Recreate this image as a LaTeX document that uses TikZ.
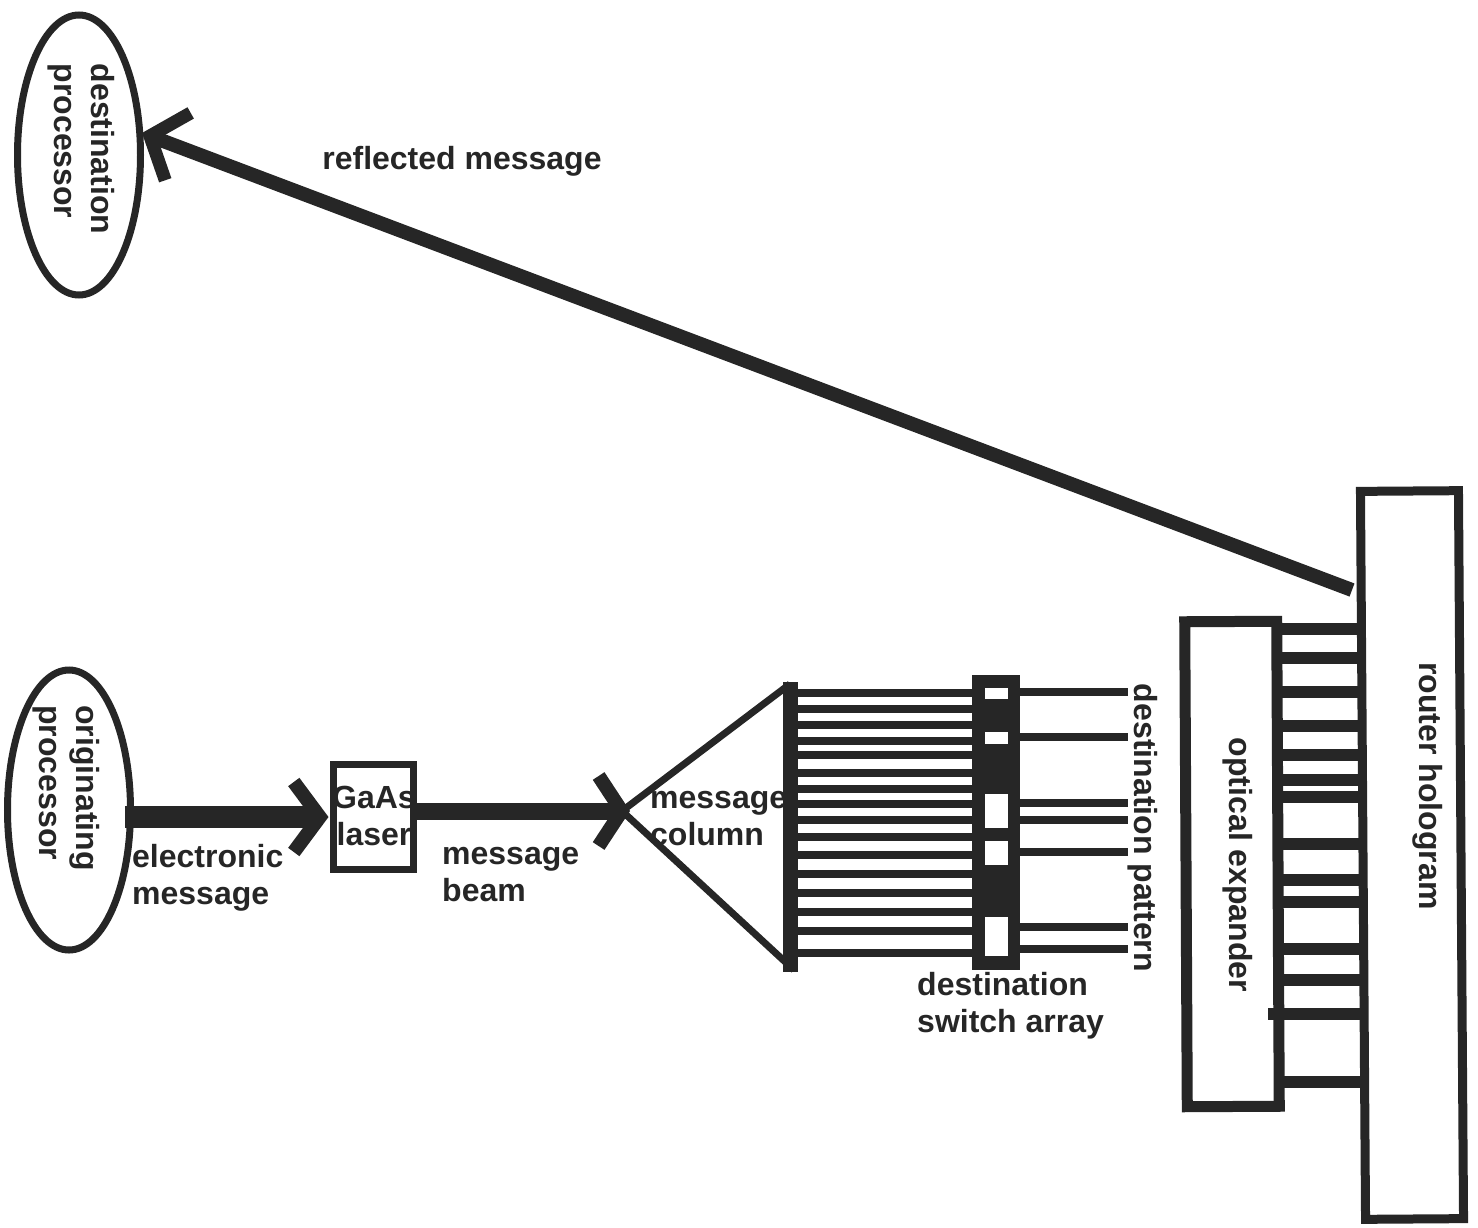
\documentclass[tikz,border=0pt]{standalone}
\usepackage{fontspec}
\setmainfont{Liberation Sans}
\usetikzlibrary{arrows.meta, positioning, calc, shapes.geometric}
\definecolor{inkdark}{HTML}{262626}
\tikzset{
  lbl/.style={font=\fontsize{32}{37}\selectfont\bfseries, text=inkdark, inner sep=0pt, align=left},
  procnode/.style={draw=inkdark, ellipse, line width=7pt, minimum width=123pt, minimum height=280pt, inner sep=0pt},
  ribbon/.style={draw=inkdark, line width=8pt},
  fatbeam/.style={draw=inkdark, line width=12pt}
}
\begin{document}
\begin{tikzpicture}[x=1pt, y=-1pt]
  \useasboundingbox (0,0) rectangle (1478,1228);

  % processors
  \node[procnode] (dest) at (79,155) {};
  \node[procnode] (orig) at (69,810) {};
  \node[lbl, rotate=-90] (destlabel) at (81,149) {destination\\processor};
  \node[lbl, rotate=-90] (origlabel) at (66,788) {originating\\processor};

  % laser and message beam
  \node[draw=inkdark, line width=7pt, minimum width=80pt, minimum height=105pt, inner sep=0pt] (laser) at (373,817) {};
  \node[lbl, align=center] (laserlabel) at (374,816) {GaAs\\laser};
  \node[lbl, anchor=west] (elabel) at (132,878) {electronic\\message};
  \node[lbl, anchor=west] (mlabel) at (442,875) {message\\beam};
  \coordinate (apex) at (622,811);
  \coordinate (origout) at (125,817);
  \coordinate (beamtip) at (630,811);
  \draw[draw=inkdark, line width=22pt, -{Straight Barb[length=26pt, width=70pt, line width=14pt]}] (origout) -- ([xshift=-1pt]laser.west |- origout);
  \draw[draw=inkdark, line width=17pt, -{Straight Barb[length=23pt, width=70pt, line width=14pt]}] (laser.east |- apex) -- (beamtip);

  % message column
  \node[fill=inkdark, minimum width=15pt, minimum height=290pt, inner sep=0pt] (column) at (790,827) {};
  \draw[draw=inkdark, line width=7pt] (790,684) -- (apex) -- (794,970);
  \node[lbl, anchor=west] (clabel) at (650,819) {message\\column};

  % switch array
  \node[fill=inkdark, minimum width=48pt, minimum height=295pt, inner sep=0pt] (switch) at (996,822) {};
  \foreach \ya/\yb in {688/699, 732/744, 794/828, 841/865, 917/956}
    \fill[white] (985,\ya) rectangle (1008,\yb);
  \foreach \y in {693,709,725,741,755,773,789,804,820,837,855,874,893,912,931,953}
    \draw[ribbon] (column.east |- 0,\y) -- (switch.west |- 0,\y);
  \foreach \y in {692,737,803,820,852,927,949}
    \draw[ribbon] (switch.east |- 0,\y) -- (1128,\y);
  \node[lbl, anchor=west] (slabel) at (917,1006) {destination\\switch array};
  \node[lbl, rotate=-90] (plabel) at (1143,828) {destination pattern};

  % expander and hologram
  \node[draw=inkdark, line width=11pt, rotate=-89.7, minimum width=485pt, minimum height=92pt, inner sep=0pt] (expander) at (1232,864) {};
  \node[draw=inkdark, line width=9pt, rotate=-89.6, minimum width=728pt, minimum height=98pt, inner sep=0pt] (router) at (1412,855) {};
  \node[lbl, rotate=-90] (xlabel) at (1238,865) {optical expander};
  \node[lbl, rotate=-90] (rlabel) at (1428,786) {router hologram};
  \foreach \y in {629,658,692,726,755,780,797,844,880,902,949,980,1014,1082}
    \draw[fatbeam] (1282,\y) -- (1362,\y);
  \draw[fatbeam] (1268,1014) -- (1282,1014);

  % reflected beam
  \coordinate (rtail) at (1352,590);
  \coordinate (dhead) at (142,133);
  \draw[draw=inkdark, line width=14pt, -{Straight Barb[length=30pt, width=72pt, line width=13pt]}] (rtail) -- (dhead);
  \node[lbl] (reflabel) at (462,161) {reflected message};
\end{tikzpicture}
\end{document}
